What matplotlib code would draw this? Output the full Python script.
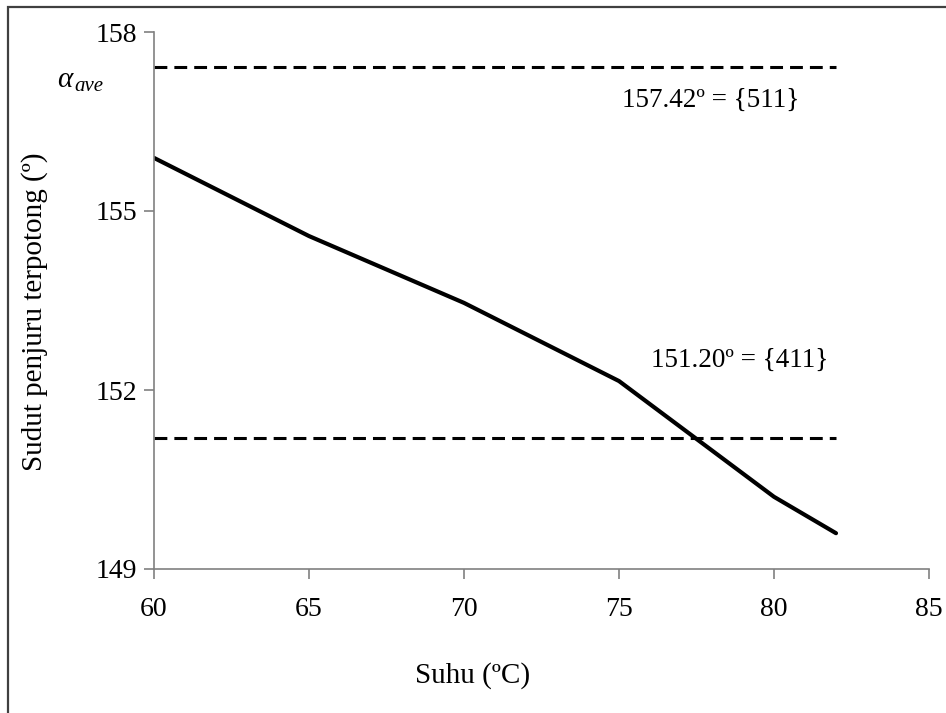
import matplotlib
matplotlib.use("Agg")
import matplotlib.pyplot as plt
from matplotlib.patches import Rectangle

# Data
suhu = [60, 65, 70, 75, 80, 82]
sudut = [155.89, 154.58, 153.46, 152.15, 150.21, 149.60]
ref_values = [157.42, 151.20]
ref_labels = ["157.42º = {511}", "151.20º = {411}"]
ref_x = [60, 82]
x_ticks = [60, 65, 70, 75, 80, 85]
y_ticks = [149, 152, 155, 158]

plt.rcParams['font.family'] = ['Liberation Serif', 'DejaVu Serif']

fig = plt.figure(figsize=(9.46, 7.13), dpi=100)
ax = fig.add_axes([154/946, 1-569/713, (929-154)/946, (569-32)/713])

# figure border
fig.patches.append(Rectangle((8/946, -0.1), 1.2, 0.1 + 1 - 7/713, transform=fig.transFigure,
                             fill=False, edgecolor='#404040', linewidth=1.6))

ax.plot(suhu, sudut, color='black', linewidth=3, solid_capstyle='round', solid_joinstyle='round')
for v in ref_values:
    ax.plot(ref_x, [v, v], color='black', linewidth=2.2, linestyle=(0, (4.2, 2.3)))

ax.set_xlim(60, 85)
ax.set_ylim(149, 158)
ax.set_xticks(x_ticks)
ax.set_yticks(y_ticks)

for s in ['top', 'right']:
    ax.spines[s].set_visible(False)
for s in ['left', 'bottom']:
    ax.spines[s].set_color('#808080')
    ax.spines[s].set_linewidth(1.2)

ax.tick_params(axis='both', direction='out', length=7, width=1.2, color='#808080',
               labelsize=20, labelcolor='black')
ax.tick_params(axis='x', pad=13)
ax.tick_params(axis='y', pad=5)

# axis labels
fig.text(473/946, 1-676/713, "Suhu (ºC)", fontsize=21, ha='center', va='center')
fig.text(35/946, 1-312/713, "Sudut penjuru terpotong (º)", fontsize=21, ha='center', va='center',
         rotation=90)

# annotations
ax.text(77.94, 156.86, ref_labels[0], fontsize=19.5, ha='center', va='center')
ax.text(78.9, 152.50, ref_labels[1], fontsize=19.5, ha='center', va='center')

# alpha_ave label
fig.text(57/946, 1-87/713, "α", fontsize=21, style='italic', ha='left', va='baseline')
fig.text(74/946, 1-91/713, "ave", fontsize=15, style='italic', ha='left', va='baseline')

fig.savefig("out.png", dpi=100)
